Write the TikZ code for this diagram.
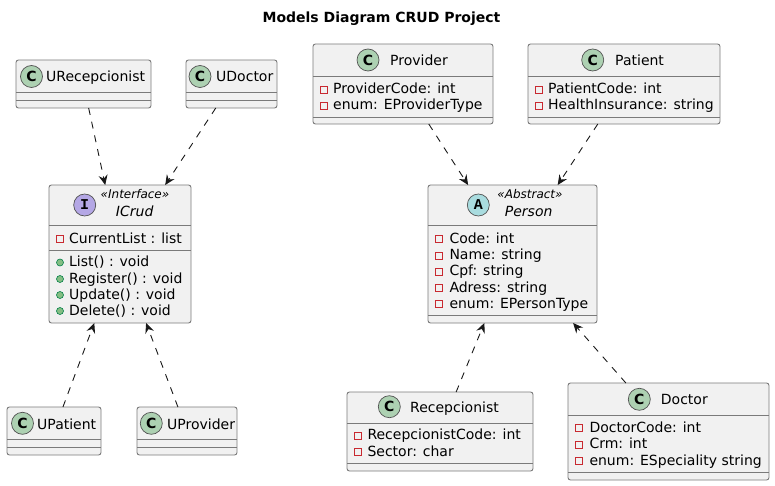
\documentclass[tikz,border=0pt]{standalone}
\usepackage{fontspec}
\setmainfont{DejaVu Sans}
\newfontfamily\iconfont{Liberation Mono}
\usetikzlibrary{arrows.meta}

\definecolor{boxfill}{HTML}{F1F1F1}
\definecolor{boxline}{HTML}{7A7A7A}
\definecolor{arrowc}{HTML}{181818}
\definecolor{cgreen}{HTML}{ADD1B2}
\definecolor{ipurple}{HTML}{B4A7E5}
\definecolor{acyan}{HTML}{A9DCDF}
\definecolor{privred}{HTML}{C82930}
\definecolor{pubfill}{HTML}{84BE84}
\definecolor{publine}{HTML}{038048}

\begin{document}
\begin{tikzpicture}[
    x=1pt, y=-1pt,
    % Class boxes and compartments
    classbox/.style={rectangle, rounded corners=2.5pt, draw=boxline, line width=0.9pt, fill=boxfill, inner sep=0pt, outer sep=0pt},
    sepline/.style={draw=boxline, line width=0.9pt},
    % Circled kind letters
    cicon/.style={circle, minimum size=22pt, inner sep=0pt, draw=arrowc!75, line width=0.7pt, fill=cgreen, font=\fontsize{14}{14}\selectfont\bfseries},
    iicon/.style={cicon, fill=ipurple, font=\fontsize{15}{15}\selectfont\iconfont\bfseries},
    aicon/.style={cicon, fill=acyan, font=\fontsize{15}{15}\selectfont\iconfont\bfseries},
    % Texts
    cname/.style={anchor=base west, inner sep=0pt, font=\fontsize{14}{16}\selectfont},
    member/.style={anchor=base west, inner sep=0pt, font=\fontsize{14}{16}\selectfont},
    stereo/.style={anchor=base, inner sep=0pt, font=\fontsize{12}{14}\selectfont\itshape},
    aname/.style={anchor=base, inner sep=0pt, font=\fontsize{14}{16}\selectfont\itshape},
    % Visibility marks
    priv/.style={rectangle, minimum size=7pt, inner sep=0pt, draw=privred, line width=0.8pt},
    pub/.style={circle, minimum size=7pt, inner sep=0pt, draw=publine, fill=pubfill, line width=0.6pt},
    % Dependency arrows
    dep/.style={draw=arrowc, line width=0.9pt, dash pattern=on 7pt off 7pt, -{Stealth[length=10pt, width=9pt, inset=3.5pt]}}
]
    \useasboundingbox (0,0) rectangle (775,486);

    % Title
    \node[anchor=base, inner sep=0pt, font=\fontsize{14}{16}\selectfont\bfseries] (title) at (381.5,23) {Models Diagram CRUD Project};

    % URecepcionist
    \node[classbox, minimum width=135pt, minimum height=48pt] (URecepcionist) at (83.5,84) {};
    \node[cicon] (URecepcionist-icon) at (31.5,76.5) {C};
    \node[cname] (URecepcionist-name) at (46,82) {URecepcionist};
    \draw[sepline] (URecepcionist.west |- 0,92) -- (URecepcionist.east |- 0,92);
    \draw[sepline] (URecepcionist.west |- 0,100) -- (URecepcionist.east |- 0,100);

    % UDoctor
    \node[classbox, minimum width=91pt, minimum height=48pt] (UDoctor) at (231.5,84) {};
    \node[cicon] (UDoctor-icon) at (200,76.5) {C};
    \node[cname] (UDoctor-name) at (216,82) {UDoctor};
    \draw[sepline] (UDoctor.west |- 0,92) -- (UDoctor.east |- 0,92);
    \draw[sepline] (UDoctor.west |- 0,100) -- (UDoctor.east |- 0,100);

    % UPatient
    \node[classbox, minimum width=94pt, minimum height=48pt] (UPatient) at (54,431) {};
    \node[cicon] (UPatient-icon) at (22.5,423.3) {C};
    \node[cname] (UPatient-name) at (37,429) {UPatient};
    \draw[sepline] (UPatient.west |- 0,439) -- (UPatient.east |- 0,439);
    \draw[sepline] (UPatient.west |- 0,447) -- (UPatient.east |- 0,447);

    % UProvider
    \node[classbox, minimum width=100pt, minimum height=48pt] (UProvider) at (187,431) {};
    \node[cicon] (UProvider-icon) at (151.3,423.3) {C};
    \node[cname] (UProvider-name) at (167,429) {UProvider};
    \draw[sepline] (UProvider.west |- 0,439) -- (UProvider.east |- 0,439);
    \draw[sepline] (UProvider.west |- 0,447) -- (UProvider.east |- 0,447);

    % ICrud interface
    \node[classbox, minimum width=142pt, minimum height=138pt] (ICrud) at (120,254) {};
    \node[iicon] (ICrud-icon) at (84.7,205) {I};
    \node[stereo] (ICrud-stereo) at (135,199) {«Interface»};
    \node[aname] (ICrud-name) at (134.7,216.7) {ICrud};
    \draw[sepline] (ICrud.west |- 0,225) -- (ICrud.east |- 0,225);
    \draw[sepline] (ICrud.west |- 0,250) -- (ICrud.east |- 0,250);
    \node[priv] (ICrud-v1) at (60,239) {};
    \node[member] (ICrud-a1) at (69,243) {CurrentList : list};
    \node[pub] (ICrud-v2) at (60,262.5) {};
    \node[member] (ICrud-m1) at (69,266.5) {List() : void};
    \node[pub] (ICrud-v3) at (60,279) {};
    \node[member] (ICrud-m2) at (69,283) {Register() : void};
    \node[pub] (ICrud-v4) at (60,295) {};
    \node[member] (ICrud-m3) at (69,299) {Update() : void};
    \node[pub] (ICrud-v5) at (60,311) {};
    \node[member] (ICrud-m4) at (69,315) {Delete() : void};

    % Provider
    \node[classbox, minimum width=180pt, minimum height=80pt] (Provider) at (403,84) {};
    \node[cicon] (Provider-icon) at (368,60) {C};
    \node[cname] (Provider-name) at (390,65.7) {Provider};
    \draw[sepline] (Provider.west |- 0,76) -- (Provider.east |- 0,76);
    \draw[sepline] (Provider.west |- 0,117) -- (Provider.east |- 0,117);
    \node[priv] (Provider-v1) at (324,89.5) {};
    \node[member] (Provider-a1) at (333,93.5) {ProviderCode: int};
    \node[priv] (Provider-v2) at (324,106) {};
    \node[member] (Provider-a2) at (333,110) {enum: EProviderType};

    % Patient
    \node[classbox, minimum width=192pt, minimum height=80pt] (Patient) at (624,84) {};
    \node[cicon] (Patient-icon) at (592.7,60) {C};
    \node[cname] (Patient-name) at (615,65.7) {Patient};
    \draw[sepline] (Patient.west |- 0,76) -- (Patient.east |- 0,76);
    \draw[sepline] (Patient.west |- 0,117) -- (Patient.east |- 0,117);
    \node[priv] (Patient-v1) at (539,89.5) {};
    \node[member] (Patient-a1) at (548,93.5) {PatientCode: int};
    \node[priv] (Patient-v2) at (539,106) {};
    \node[member] (Patient-a2) at (548,110) {HealthInsurance: string};

    % Person abstract class
    \node[classbox, minimum width=169pt, minimum height=138pt] (Person) at (512.5,254) {};
    \node[aicon] (Person-icon) at (478.3,205) {A};
    \node[stereo] (Person-stereo) at (530,199) {«Abstract»};
    \node[aname] (Person-name) at (528.7,216.7) {Person};
    \draw[sepline] (Person.west |- 0,225) -- (Person.east |- 0,225);
    \draw[sepline] (Person.west |- 0,315) -- (Person.east |- 0,315);
    \node[priv] (Person-v1) at (439.3,239) {};
    \node[member] (Person-a1) at (449.3,243) {Code: int};
    \node[priv] (Person-v2) at (439.3,255.5) {};
    \node[member] (Person-a2) at (449.3,259.5) {Name: string};
    \node[priv] (Person-v3) at (439.3,271.5) {};
    \node[member] (Person-a3) at (449.3,275.5) {Cpf: string};
    \node[priv] (Person-v4) at (439.3,288) {};
    \node[member] (Person-a4) at (449.3,292) {Adress: string};
    \node[priv] (Person-v5) at (439.3,304) {};
    \node[member] (Person-a5) at (449.3,308) {enum: EPersonType};

    % Recepcionist
    \node[classbox, minimum width=186pt, minimum height=79pt] (Recepcionist) at (440,431.5) {};
    \node[cicon] (Recepcionist-icon) at (389.3,406.7) {C};
    \node[cname] (Recepcionist-name) at (410,412.3) {Recepcionist};
    \draw[sepline] (Recepcionist.west |- 0,423) -- (Recepcionist.east |- 0,423);
    \draw[sepline] (Recepcionist.west |- 0,463) -- (Recepcionist.east |- 0,463);
    \node[priv] (Recepcionist-v1) at (358.3,435.5) {};
    \node[member] (Recepcionist-a1) at (367.3,439.5) {RecepcionistCode: int};
    \node[priv] (Recepcionist-v2) at (358.3,452) {};
    \node[member] (Recepcionist-a2) at (367.3,456) {Sector: char};

    % Doctor
    \node[classbox, minimum width=201pt, minimum height=97pt] (Doctor) at (668.5,431.5) {};
    \node[cicon] (Doctor-icon) at (639.3,399.3) {C};
    \node[cname] (Doctor-name) at (660.7,404.3) {Doctor};
    \draw[sepline] (Doctor.west |- 0,415) -- (Doctor.east |- 0,415);
    \draw[sepline] (Doctor.west |- 0,472) -- (Doctor.east |- 0,472);
    \node[priv] (Doctor-v1) at (579,428) {};
    \node[member] (Doctor-a1) at (589.3,432) {DoctorCode: int};
    \node[priv] (Doctor-v2) at (579,444.5) {};
    \node[member] (Doctor-a2) at (589.3,448.5) {Crm: int};
    \node[priv] (Doctor-v3) at (579,461) {};
    \node[member] (Doctor-a3) at (589.3,465) {enum: ESpeciality string};

    % Dependencies
    \draw[dep] (URecepcionist) -- (ICrud);
    \draw[dep] (UDoctor) -- (ICrud);
    \draw[dep] (UPatient) -- (ICrud);
    \draw[dep] (UProvider) -- (ICrud);
    \draw[dep] (Provider) -- (Person);
    \draw[dep] (Patient) -- (Person);
    \draw[dep] (Recepcionist) -- (Person);
    \draw[dep] (Doctor) -- (Person);

\end{tikzpicture}
\end{document}
